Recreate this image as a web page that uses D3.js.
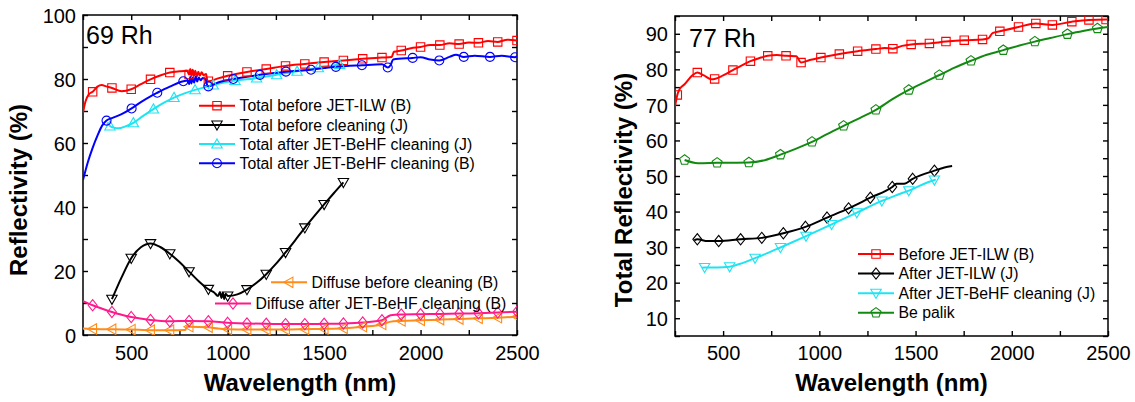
<!DOCTYPE html>
<html>
<head>
<meta charset="utf-8">
<script src="https://cdn.jsdelivr.net/npm/d3@7"></script>
<style>
  body { margin: 0; background: #fff; }
  text { font-family: "Liberation Sans", Arial, sans-serif; }
</style>
</head>
<body>
<div id="chart-wrapper"></div>
<script>
// ---- Data: [wavelength nm, reflectivity %, 1 = marker drawn here] ----

// 69 Rh panel
const totalBeforeB = [[250,69.4],[262,72.8],[280,75.2],[300,76.0,1],[325,77.6],[347,78.1],[370,77.7],[400,77.2,1],[450,76.2],[500,76.8,1],[550,78.4],[600,79.9,1],[650,81.1],[700,82.0,1],[750,82.4],[790,82.6],[800,81.4,1],[806,83.1],[812,80.9],[818,82.9],[825,81.0],[832,82.6],[840,80.8],[848,82.3],[856,81.0],[865,82.1],[875,81.2],[888,81.6],[895,79.4],[900,79.3,1],[950,80.2],[1000,81.0,1],[1100,82.2,1],[1200,83.1,1],[1300,84.1,1],[1400,84.7,1],[1500,85.3,1],[1600,85.8,1],[1700,86.3,1],[1800,86.7,1],[1850,86.9],[1862,88.5],[1900,88.9,1],[1950,89.6],[2000,90.0,1],[2050,90.6],[2100,90.6,1],[2150,91.2],[2200,90.9,1],[2250,91.4],[2300,91.3,1],[2350,91.9],[2400,91.6,1],[2450,92.3],[2500,92.0,1]]
const totalBeforeJ = [[400,11.2,1],[450,18.0],[500,24.0,1],[550,27.4],[600,28.6,1],[650,27.5],[700,25.4,1],[750,22.8],[800,19.8,1],[850,16.8],[900,14.3,1],[930,13.3],[950,12.2],[960,13.4],[968,11.6],[975,13.2],[982,11.2],[990,12.9],[1000,12.2,1],[1050,12.7],[1100,14.2,1],[1150,16.3],[1200,19.0,1],[1250,22.2],[1300,25.8,1],[1350,29.6],[1400,33.5,1],[1450,37.2],[1500,40.8,1],[1550,44.3],[1600,47.7,1]]
const totalAfterJ = [[375,66.4],[390,65.3,1],[410,64.8],[433,64.6],[470,65.2],[511,66.3,1],[560,68.4],[615,70.6,1],[670,72.6],[722,74.2,1],[780,75.6],[831,76.6,1],[880,77.4],[925,78.1,1],[980,78.9],[1038,79.5,1],[1100,79.9],[1150,80.3,1],[1254,81.3,1],[1360,82.4,1],[1470,83.5,1],[1580,84.5,1],[1600,84.7]]
const totalAfterB = [[250,48.4],[275,54],[300,58.5],[325,62.3],[350,65.5],[372,67.0,1],[400,67.8],[450,69.0],[502,70.8,1],[550,72.8],[600,74.6],[635,75.7,1],[700,77.6],[770,79.3,1],[795,79.5],[800,78.4],[806,80.6],[812,78.6],[818,80.4],[826,78.9],[834,80.8],[842,79.2],[850,80.5],[860,79.6],[870,80.3],[885,79.9],[895,77.9],[900,77.7,1],[950,78.9],[1029,80.0,1],[1100,80.7],[1167,81.3,1],[1230,81.8],[1302,82.3,1],[1432,82.9,1],[1500,83.4],[1561,83.8,1],[1696,84.3,1],[1800,84.6],[1830,83.6,1],[1845,84.4],[1858,86.1],[1959,86.6,1],[2000,86.8],[2050,86.1],[2097,85.8,1],[2150,86.9],[2184,87.6],[2224,86.9,1],[2280,87.3],[2360,86.9,1],[2420,87.3],[2490,86.8,1],[2500,87.2]]
const diffuseBeforeB = [[250,2.0],[300,1.9,1],[400,1.8,1],[500,1.7,1],[600,1.5,1],[700,1.5,1],[780,1.6],[790,2.6],[800,2.6,1],[900,2.4,1],[950,2.0],[1000,1.8,1],[1100,1.7,1],[1200,1.7,1],[1300,1.7,1],[1400,1.8,1],[1500,1.9,1],[1600,2.1,1],[1700,2.6,1],[1800,3.3,1],[1840,4.1],[1900,4.4,1],[2000,4.6,1],[2100,4.8,1],[2200,5.0,1],[2300,5.2,1],[2400,5.4,1],[2500,5.7,1]]
const diffuseAfterB = [[250,10.6],[300,9.3,1],[350,8.2],[400,7.2,1],[450,6.3],[500,5.6,1],[600,4.7,1],[700,4.3,1],[800,4.4,1],[900,4.3,1],[1000,3.8,1],[1100,3.6,1],[1200,3.5,1],[1300,3.4,1],[1400,3.4,1],[1500,3.5,1],[1600,3.6,1],[1700,3.9,1],[1800,4.6,1],[1845,6.2],[1900,6.4,1],[2000,6.5,1],[2100,6.6,1],[2200,6.7,1],[2300,6.8,1],[2400,7.0,1],[2500,7.3,1]]

// 77 Rh panel
const beforeILW = [[250,69.5],[262,72.8,1],[275,74.5],[300,75.8],[340,78.3],[366,79.1,1],[400,78.3],[440,77.2],[456,77.3,1],[500,78.3],[551,79.8,1],[600,81.2],[642,82.3,1],[690,83.2],[732,83.8,1],[780,84.0],[827,83.8,1],[880,83.7],[905,81.9,1],[950,82.6],[1008,83.3,1],[1104,84.3,1],[1199,85.1,1],[1294,85.7,1],[1340,86.0],[1382,85.8,1],[1430,86.6],[1477,87.0,1],[1572,87.3,1],[1658,87.8,1],[1753,88.2,1],[1848,88.4,1],[1880,88.8],[1900,90.2],[1938,90.7,1],[2035,91.9,1],[2125,92.9,1],[2211,92.5,1],[2312,93.4,1],[2401,93.9,1],[2490,94.0,1],[2500,94.1]]
const afterILW = [[350,31.9],[366,32.2,1],[420,31.7],[477,31.7,1],[591,32.2,1],[701,32.6,1],[813,33.9,1],[928,35.7,1],[1040,38.3,1],[1152,40.9,1],[1265,43.9,1],[1379,46.9,1],[1400,47.8],[1440,47.8],[1485,49.2,1],[1598,51.5,1],[1650,52.4],[1690,52.8]]
const afterBeHFJ = [[390,24.2],[404,24.3,1],[470,24.3],[534,24.5,1],[600,25.5],[666,26.9,1],[730,28.3],[798,29.9,1],[931,33.1,1],[1064,36.4,1],[1195,39.7,1],[1325,43.0,1],[1400,44.6],[1465,45.9,1],[1598,48.9,1],[1605,49.0]]
const bePalik = [[300,54.5,1],[369,53.6],[469,53.7,1],[634,53.8,1],[720,54.5],[798,56.0,1],[880,57.7],[962,59.6,1],[1040,61.8],[1126,64.1,1],[1210,66.3],[1294,68.6,1],[1380,71.6],[1465,74.2,1],[1540,76.2],[1624,78.4,1],[1700,80.4],[1788,82.4,1],[1870,84.1],[1956,85.4,1],[2040,86.7],[2120,87.8,1],[2200,88.8],[2289,89.9,1],[2370,90.8],[2445,91.5,1],[2500,91.9]]

// Tick values
const xTicks = [250,500,750,1000,1250,1500,1750,2000,2250,2500]
const xLabels = [500,1000,1500,2000,2500]
const yTicksLeft = [0,10,20,30,40,50,60,70,80,90,100]
const yLabelsLeft = [0,20,40,60,80,100]
const yTicksRight = [5,10,15,20,25,30,35,40,45,50,55,60,65,70,75,80,85,90,95]
const yLabelsRight = [10,20,30,40,50,60,70,80,90]

// Legend labels
const legendLeftTop = ["Total before JET-ILW (B)","Total before cleaning (J)","Total after JET-BeHF cleaning (J)","Total after JET-BeHF cleaning (B)"]
const legendLeftBottom = ["Diffuse before cleaning (B)","Diffuse after JET-BeHF cleaning (B)"]
const legendRight = ["Before JET-ILW (B)","After JET-ILW (J)","After JET-BeHF cleaning (J)","Be palik"]

// Colours
const RED = "#ff0000", BLACK = "#000000", CYAN = "#1ee4f2", BLUE = "#0000ff"
const ORANGE = "#ff8c1a", PINK = "#ff1a8c", GREEN = "#128a12"

// Marker shapes
const shapes = {
  square: r => `M${-r},${-r}H${r}V${r}H${-r}Z`,
  circle: r => `M${r},0A${r},${r} 0 1,1 ${-r},0A${r},${r} 0 1,1 ${r},0Z`,
  up: r => `M0,${-r}L${r},${r*0.75}L${-r},${r*0.75}Z`,
  down: r => `M0,${r}L${r},${-r*0.75}L${-r},${-r*0.75}Z`,
  left: r => `M${-r},0L${r*0.75},${-r}L${r*0.75},${r}Z`,
  diamond: r => `M0,${-r}L${r*0.8},0L0,${r}L${-r*0.8},0Z`,
  pentagon: r => "M" + d3.range(5).map(k => {
    const a = -Math.PI/2 + k*2*Math.PI/5
    return `${r*Math.cos(a)},${r*Math.sin(a)}`
  }).join("L") + "Z"
}
const shapeSize = {square: 4.2, circle: 4.5, up: 5.2, down: 5.2, left: 5.2, diamond: 5.6, pentagon: 5.2}

const width = 1135, height = 402

const svg = d3.select("#chart-wrapper").append("svg")
  .attr("width", width).attr("height", height)
svg.append("rect").attr("width", width).attr("height", height).attr("fill", "#fff")

const drawPanel = (p) => {
  const g = svg.append("g")
  const x = d3.scaleLinear().domain([250, 2500]).range([p.left, p.right])
  const y = d3.scaleLinear().domain(p.yDomain).range([p.bottom, p.top])

  // clip
  const clipId = "clip" + p.id
  svg.append("clipPath").attr("id", clipId).append("rect")
    .attr("x", p.left).attr("y", p.top)
    .attr("width", p.right - p.left).attr("height", p.bottom - p.top)

  // axes, ticks pointing inward
  const fmtX = d => xLabels.includes(d) ? d : ""
  const fmtY = d => p.yLabels.includes(d) ? d : ""
  const styleAxis = sel => {
    sel.select(".domain").remove()
    sel.selectAll("line").attr("stroke", "#000").attr("stroke-width", 1.4)
    sel.selectAll("text").attr("font-size", 20).attr("fill", "#000")
      .attr("font-family", "Liberation Sans, Arial, sans-serif")
  }
  g.append("g").attr("transform", `translate(0,${p.bottom})`)
    .call(d3.axisBottom(x).tickValues(xTicks).tickFormat(fmtX).tickSizeInner(-5).tickSizeOuter(0).tickPadding(0))
    .call(styleAxis)
    .selectAll("text").attr("dy", null).attr("y", 360 - p.bottom)
  g.append("g").attr("transform", `translate(0,${p.top})`)
    .call(d3.axisTop(x).tickValues(xTicks).tickFormat("").tickSizeInner(-5).tickSizeOuter(0))
    .call(styleAxis)
  g.append("g").attr("transform", `translate(${p.left},0)`)
    .call(d3.axisLeft(y).tickValues(p.yTicks).tickFormat(fmtY).tickSizeInner(-5).tickSizeOuter(0).tickPadding(7))
    .call(styleAxis)
    .selectAll("text").attr("dy", "0.36em")
  g.append("g").attr("transform", `translate(${p.right},0)`)
    .call(d3.axisRight(y).tickValues(p.yTicks).tickFormat("").tickSizeInner(-5).tickSizeOuter(0))
    .call(styleAxis)

  // frame
  g.append("rect").attr("x", p.left).attr("y", p.top)
    .attr("width", p.right - p.left).attr("height", p.bottom - p.top)
    .attr("fill", "none").attr("stroke", "#000").attr("stroke-width", 1.5)

  // series
  const line = d3.line().x(d => x(d[0])).y(d => y(d[1])).curve(d3.curveMonotoneX)
  const plot = g.append("g").attr("clip-path", `url(#${clipId})`)
  p.series.forEach(s => {
    plot.append("path").datum(s.data).attr("d", line)
      .attr("fill", "none").attr("stroke", s.color).attr("stroke-width", 2)
      .attr("stroke-linejoin", "round")
  })
  p.series.forEach(s => {
    plot.selectAll(null).data(s.data.filter(d => d[2])).enter().append("path")
      .attr("d", shapes[s.shape](shapeSize[s.shape]))
      .attr("transform", d => `translate(${x(d[0])},${y(d[1])})`)
      .attr("fill", "none").attr("stroke", s.color).attr("stroke-width", 1.1)
  })

  // legends
  p.legends.forEach(lg => {
    lg.items.forEach((s, i) => {
      const cy = lg.y + i * lg.dy
      const lx = lg.x
      g.append("line").attr("x1", lx).attr("x2", lx + 36).attr("y1", cy).attr("y2", cy)
        .attr("stroke", s.color).attr("stroke-width", 2)
      g.append("path").attr("d", shapes[s.shape](shapeSize[s.shape]))
        .attr("transform", `translate(${lx + 18},${cy})`)
        .attr("fill", "none").attr("stroke", s.color).attr("stroke-width", 1.1)
      g.append("text").attr("x", lx + 40.5).attr("y", cy).attr("dy", "0.36em")
        .attr("font-size", 15.8).text(lg.labels[i])
    })
  })

  // titles
  g.append("text").attr("x", (p.left + p.right) / 2).attr("y", 391)
    .attr("text-anchor", "middle").attr("font-size", 24).attr("font-weight", "bold")
    .text("Wavelength (nm)")
  g.append("text").attr("transform", `translate(${p.yTitleX},190) rotate(-90)`)
    .attr("text-anchor", "middle").attr("font-size", 24).attr("font-weight", "bold")
    .text(p.yTitle)
  g.append("text").attr("x", p.nameX).attr("y", p.nameY)
    .attr("font-size", 25).text(p.name)
}

const sL = {
  red: {data: totalBeforeB, color: RED, shape: "square"},
  black: {data: totalBeforeJ, color: BLACK, shape: "down"},
  cyan: {data: totalAfterJ, color: CYAN, shape: "up"},
  blue: {data: totalAfterB, color: BLUE, shape: "circle"},
  orange: {data: diffuseBeforeB, color: ORANGE, shape: "left"},
  pink: {data: diffuseAfterB, color: PINK, shape: "diamond"}
}
drawPanel({
  id: "L", name: "69 Rh", nameX: 86, nameY: 44,
  left: 83, right: 517, top: 15, bottom: 335,
  yDomain: [0, 100], yTicks: yTicksLeft, yLabels: yLabelsLeft,
  yTitle: "Reflectivity (%)", yTitleX: 27,
  series: [sL.red, sL.black, sL.cyan, sL.blue, sL.orange, sL.pink],
  legends: [
    {x: 199, y: 105.7, dy: 19.2, items: [sL.red, sL.black, sL.cyan, sL.blue], labels: legendLeftTop},
    {x: 271, y: 282.3, dy: 21, items: [sL.orange], labels: [legendLeftBottom[0]]},
    {x: 215, y: 303.5, dy: 21, items: [sL.pink], labels: [legendLeftBottom[1]]}
  ]
})

const sR = {
  red: {data: beforeILW, color: RED, shape: "square"},
  black: {data: afterILW, color: BLACK, shape: "diamond"},
  cyan: {data: afterBeHFJ, color: CYAN, shape: "down"},
  green: {data: bePalik, color: GREEN, shape: "pentagon"}
}
drawPanel({
  id: "R", name: "77 Rh", nameX: 689, nameY: 47,
  left: 675, right: 1108, top: 16, bottom: 336,
  yDomain: [5, 95], yTicks: yTicksRight, yLabels: yLabelsRight,
  yTitle: "Total Reflectivity (%)", yTitleX: 632,
  series: [sR.red, sR.black, sR.cyan, sR.green],
  legends: [
    {x: 858, y: 254, dy: 19.6, items: [sR.red, sR.black, sR.cyan, sR.green], labels: legendRight}
  ]
})
</script>
</body>
</html>
